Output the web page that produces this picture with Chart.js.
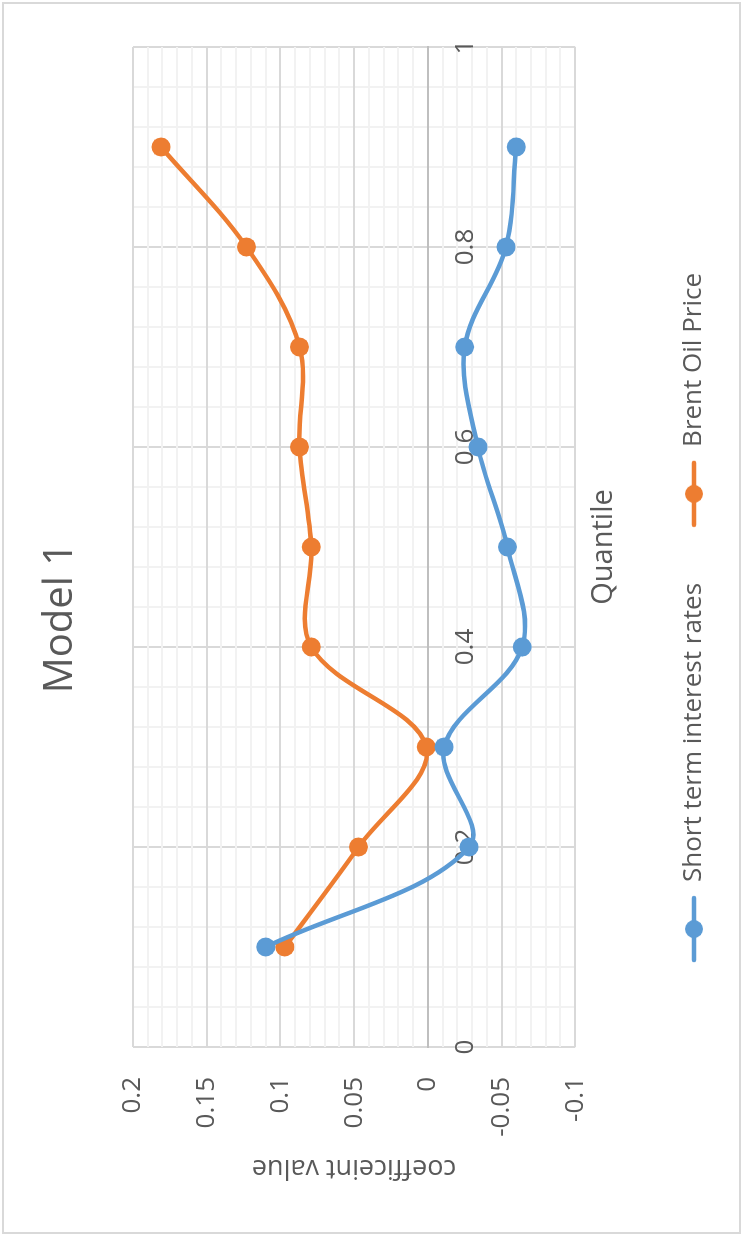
<!DOCTYPE html>
<html>
<head>
<meta charset="utf-8">
<title>Model 1</title>
<script src="https://cdn.jsdelivr.net/npm/chart.js@4.4.1/dist/chart.umd.min.js"></script>
<style>
    html, body { margin: 0; padding: 0; background: #ffffff; }
    body { width: 743px; height: 1236px; overflow: hidden; position: relative; }
    /* the chart is laid out landscape and turned a quarter turn to the left */
    #quadro {
        position: absolute;
        left: 0;
        top: 0;
        width: 1236px;
        height: 743px;
        transform-origin: 0 0;
        transform: translate(0px, 1236px) rotate(-90deg);
    }
</style>
</head>
<body>
<div id="quadro"><canvas id="graficoLinhas" width="1236" height="743"></canvas></div>
<script>
const quantiles  = [0.1, 0.2, 0.3, 0.4, 0.5, 0.6, 0.7, 0.8, 0.9];
const shortRates = [0.110, -0.028, -0.011, -0.064, -0.054, -0.034, -0.025, -0.053, -0.060];
const brentOil   = [0.097, 0.047, 0.001, 0.079, 0.079, 0.087, 0.087, 0.123, 0.181];

const quantileLabels = [0, 0.2, 0.4, 0.6, 0.8, 1];
const valueLabels    = [0.2, 0.15, 0.1, 0.05, 0, -0.05, -0.1];

const BLUE   = '#5B9BD5';
const ORANGE = '#ED7D31';
const TEXT   = '#595959';
const FONT   = "'Open Sans', 'Liberation Sans', sans-serif";

function isLabelled(value, list) {
    return list.some(v => Math.abs(v - value) < 1e-6);
}

function formatValue(value) {
    return String(Math.round(value * 100) / 100);
}

// small line-with-dot sample used in the legend
function legendMarker(color) {
    const c = document.createElement('canvas');
    c.width = 68;
    c.height = 22;
    const ctx = c.getContext('2d');
    ctx.strokeStyle = color;
    ctx.lineWidth = 4.5;
    ctx.lineCap = 'round';
    ctx.beginPath();
    ctx.moveTo(3, 11);
    ctx.lineTo(65, 11);
    ctx.stroke();
    ctx.fillStyle = color;
    ctx.beginPath();
    ctx.arc(34, 11, 9, 0, Math.PI * 2);
    ctx.fill();
    return c;
}

const markers = [legendMarker(BLUE), legendMarker(ORANGE)];

// light outer frame round the whole chart
const moldura = {
    id: 'moldura',
    beforeDraw(chart) {
        const ctx = chart.ctx;
        ctx.save();
        ctx.fillStyle = '#ffffff';
        ctx.fillRect(0, 0, chart.width, chart.height);
        ctx.strokeStyle = '#d9d9d9';
        ctx.lineWidth = 2;
        ctx.strokeRect(3, 3, chart.width - 6, chart.height - 6);
        ctx.restore();
    }
};

function serie(label, values, color) {
    return {
        label: label,
        data: quantiles.map((q, i) => ({ x: q, y: values[i] })),
        borderColor: color,
        backgroundColor: color,
        borderWidth: 4.5,
        tension: 0.35,
        pointRadius: 9.5,
        pointHoverRadius: 9.5,
        pointBorderWidth: 0,
        pointBackgroundColor: color,
        fill: false
    };
}

new Chart(document.getElementById('graficoLinhas'), {
    type: 'line',
    data: {
        datasets: [
            serie('Short term interest rates', shortRates, BLUE),
            serie('Brent Oil Price', brentOil, ORANGE)
        ]
    },
    plugins: [moldura],
    options: {
        responsive: false,
        animation: false,
        events: [],
        layout: { padding: { left: 0, right: 0, top: 0, bottom: 26 } },
        plugins: {
            title: {
                display: true,
                text: 'Model 1',
                color: TEXT,
                font: { family: FONT, size: 40, weight: 'normal' },
                padding: { top: 37, bottom: 48 }
            },
            subtitle: {
                display: true,
                text: 'Quantile',
                position: 'bottom',
                fullSize: false,
                weight: 500,
                color: TEXT,
                font: { family: FONT, size: 29, weight: 'normal' },
                padding: { top: 11, bottom: 5 }
            },
            legend: {
                position: 'bottom',
                weight: 1000,
                labels: {
                    color: TEXT,
                    font: { family: FONT, size: 26 },
                    padding: 55,
                    usePointStyle: true,
                    pointStyleWidth: 68,
                    generateLabels(chart) {
                        const items = Chart.defaults.plugins.legend.labels.generateLabels(chart);
                        items.forEach(item => { item.pointStyle = markers[item.datasetIndex]; });
                        return items;
                    }
                }
            },
            tooltip: { enabled: false }
        },
        scales: {
            x: {
                type: 'linear',
                position: { y: 0 },
                min: 0,
                max: 1,
                ticks: {
                    stepSize: 0.04,
                    autoSkip: false,
                    maxRotation: 0,
                    padding: 22,
                    color: TEXT,
                    font: { family: FONT, size: 26 },
                    callback: v => isLabelled(v, quantileLabels) ? formatValue(v) : ''
                },
                grid: {
                    drawTicks: false,
                    lineWidth: 2,
                    color: c => (c.tick && isLabelled(c.tick.value, quantileLabels)) ? '#d9d9d9' : '#f2f2f2'
                },
                border: { display: true, color: '#bfbfbf', width: 2 }
            },
            y: {
                type: 'linear',
                position: 'left',
                min: -0.1,
                max: 0.2,
                afterFit: s => { s.width = 189; },
                ticks: {
                    stepSize: 0.01,
                    autoSkip: false,
                    padding: 30,
                    color: TEXT,
                    font: { family: FONT, size: 26 },
                    callback: v => isLabelled(v, valueLabels) ? formatValue(v) : ''
                },
                grid: {
                    drawTicks: false,
                    lineWidth: 2,
                    color: c => {
                        if (!c.tick) return '#f2f2f2';
                        if (Math.abs(c.tick.value) < 1e-6) return '#bfbfbf';
                        return isLabelled(c.tick.value, valueLabels) ? '#d9d9d9' : '#f2f2f2';
                    }
                },
                border: { display: false },
                title: {
                    display: true,
                    text: 'coefficeint value',
                    color: TEXT,
                    font: { family: FONT, size: 27, weight: 'normal' },
                    padding: { top: 52, bottom: 0 }
                }
            },
            // empty right-hand axis, only keeps the margin beside the plot
            margem: {
                type: 'linear',
                position: 'right',
                afterFit: s => { s.width = 47; },
                ticks: { display: false },
                grid: { display: false, drawTicks: false },
                border: { display: false }
            }
        }
    }
});
</script>
</body>
</html>
